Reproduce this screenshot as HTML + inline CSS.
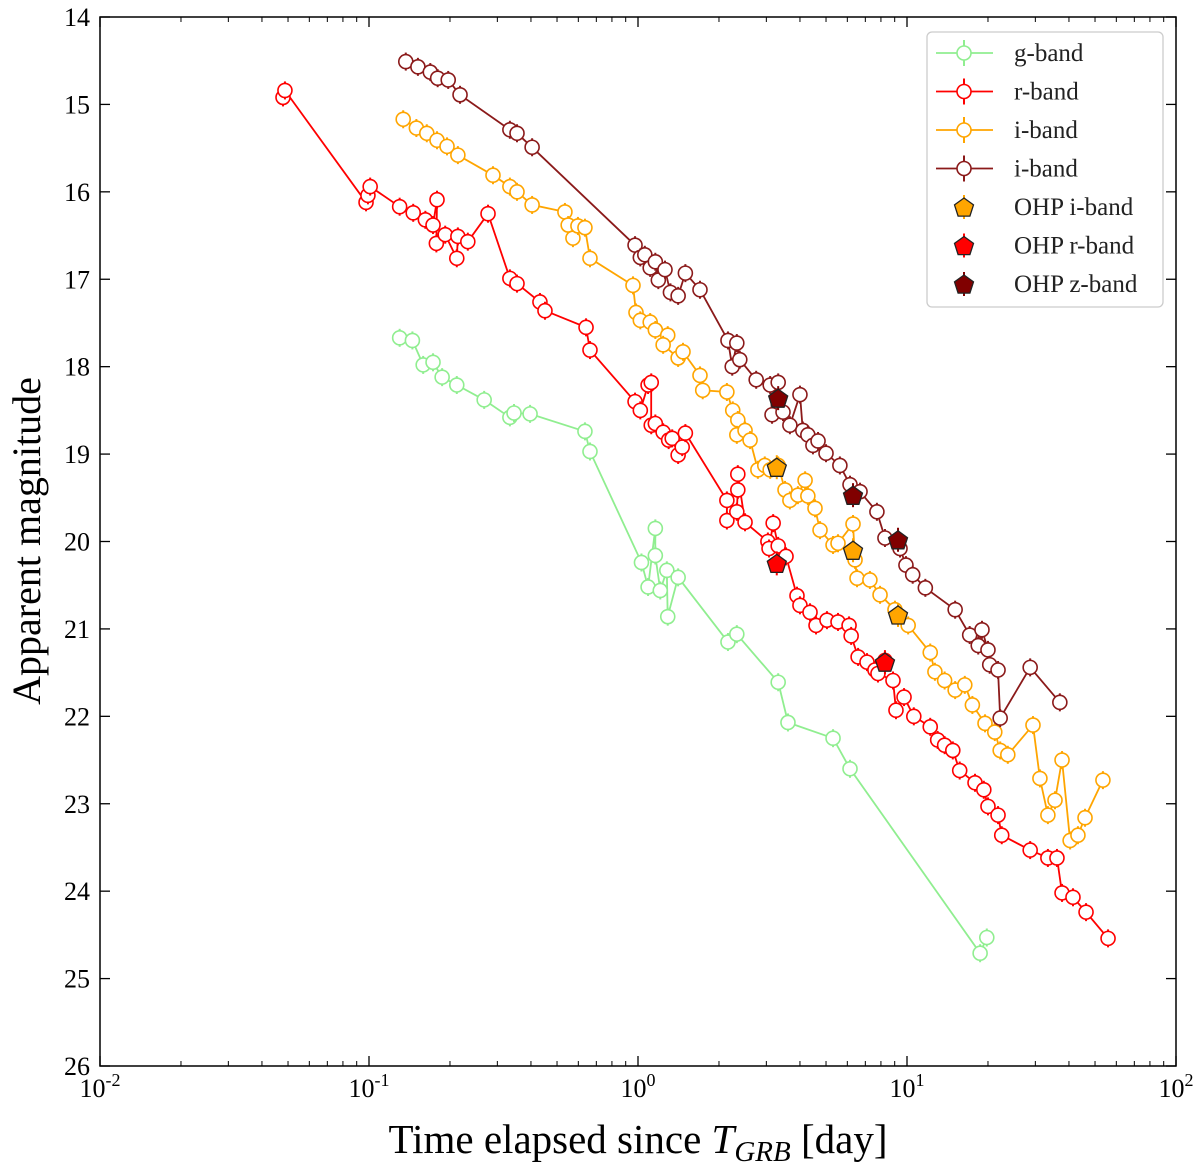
<!DOCTYPE html>
<html><head><meta charset="utf-8"><style>
body{margin:0;background:#fff}
svg{display:block;font-family:"Liberation Serif",serif}
</style></head><body>
<svg id="chart" width="1200" height="1170" viewBox="0 0 1200 1170" xmlns="http://www.w3.org/2000/svg"></svg>
<script>
// ---- data ----
const gT=[0.130,0.145,0.159,0.173,0.187,0.212,0.268,0.334,0.346,0.397,0.635,0.663,1.03,1.09,1.16,1.16,1.21,1.28,1.29,1.41,2.16,2.33,3.32,3.61,5.31,6.14,18.7,19.8];
const gM=[17.67,17.70,17.98,17.95,18.12,18.21,18.38,18.58,18.53,18.54,18.74,18.97,20.24,20.52,19.85,20.16,20.56,20.33,20.86,20.41,21.15,21.06,21.61,22.07,22.25,22.60,24.71,24.53];
const rT=[0.0479,0.0487,0.0975,0.0991,0.101,0.130,0.146,0.162,0.173,0.179,0.178,0.192,0.212,0.214,0.233,0.277,0.334,0.355,0.432,0.451,0.641,0.663,0.975,1.02,1.09,1.12,1.12,1.16,1.24,1.30,1.34,1.41,1.46,1.50,2.14,2.14,2.33,2.35,2.35,2.50,3.04,3.07,3.18,3.32,3.55,3.90,4.00,4.36,4.59,5.04,5.54,6.09,6.20,6.58,7.10,7.60,8.28,7.80,8.87,9.10,9.75,10.6,12.2,13.0,13.8,14.8,15.7,17.9,19.3,20.0,21.8,22.5,28.7,33.4,36.1,37.7,41.4,46.3,55.9];
const rM=[14.92,14.84,16.12,16.04,15.94,16.17,16.24,16.32,16.38,16.09,16.59,16.49,16.76,16.51,16.57,16.25,16.99,17.05,17.26,17.36,17.55,17.81,18.40,18.50,18.21,18.18,18.67,18.65,18.75,18.84,18.82,19.01,18.92,18.76,19.53,19.76,19.66,19.41,19.23,19.78,20.00,20.08,19.79,20.05,20.17,20.62,20.73,20.81,20.96,20.90,20.92,20.96,21.08,21.32,21.38,21.47,21.36,21.51,21.59,21.93,21.78,22.00,22.12,22.27,22.33,22.39,22.62,22.76,22.84,23.03,23.13,23.36,23.53,23.62,23.62,24.02,24.07,24.24,24.54];
const iT=[0.134,0.150,0.164,0.179,0.195,0.214,0.289,0.334,0.355,0.404,0.535,0.550,0.573,0.598,0.635,0.663,0.958,0.983,1.02,1.11,1.16,1.29,1.24,1.41,1.47,1.70,1.74,2.14,2.25,2.35,2.33,2.50,2.61,2.79,2.96,3.10,3.32,3.52,3.67,3.93,4.18,4.28,4.55,4.75,5.31,5.54,6.30,6.41,6.52,7.28,7.94,9.02,10.1,12.2,12.7,13.8,15.1,16.4,17.5,19.5,21.2,22.2,23.7,29.4,31.2,33.4,35.5,37.7,40.4,43.2,45.9,53.5];
const iM=[15.17,15.27,15.33,15.41,15.48,15.58,15.81,15.94,16.00,16.15,16.23,16.38,16.53,16.39,16.41,16.76,17.07,17.38,17.47,17.49,17.58,17.64,17.75,17.90,17.83,18.10,18.27,18.29,18.50,18.61,18.78,18.73,18.84,19.18,19.13,19.18,19.13,19.41,19.53,19.47,19.30,19.48,19.62,19.87,20.04,20.02,19.80,20.21,20.42,20.44,20.61,20.78,20.96,21.27,21.49,21.59,21.70,21.64,21.87,22.08,22.18,22.39,22.44,22.10,22.71,23.13,22.96,22.50,23.42,23.36,23.16,22.73];
const zT=[0.137,0.152,0.169,0.180,0.197,0.218,0.334,0.355,0.404,0.975,1.02,1.06,1.11,1.16,1.19,1.26,1.32,1.41,1.50,1.70,2.16,2.24,2.33,2.39,2.75,3.10,3.15,3.32,3.46,3.67,4.00,4.10,4.28,4.47,4.67,5.00,5.63,6.14,6.69,7.73,8.28,9.42,9.91,10.5,11.7,15.1,17.1,18.4,19.0,20.0,20.3,21.8,22.2,28.7,37.0];
const zM=[14.51,14.57,14.63,14.70,14.72,14.89,15.29,15.33,15.49,16.61,16.75,16.72,16.87,16.80,17.01,16.89,17.15,17.19,16.93,17.12,17.70,18.00,17.73,17.92,18.15,18.21,18.55,18.18,18.52,18.67,18.32,18.73,18.78,18.90,18.85,18.99,19.13,19.35,19.43,19.66,19.96,20.08,20.27,20.38,20.53,20.78,21.07,21.19,21.01,21.24,21.41,21.47,22.02,21.44,21.84];
const ohpIT=[3.28,6.30,9.26], ohpIM=[19.15,20.10,20.84];
const ohpRT=[3.28,8.28], ohpRM=[20.25,21.38];
const ohpZT=[3.32,6.30,9.26], ohpZM=[18.36,19.47,19.98];
const yTicks=[14,15,16,17,18,19,20,21,22,23,24,25,26];
const xDecades=[-2,-1,0,1,2];
const legendLabels=["g-band","r-band","i-band","i-band","OHP i-band","OHP r-band","OHP z-band"];

// ---- geometry ----
const L=100,R=1176,T=17,B=1066;
const xs=t=>L+(Math.log10(t)+2)/4*(R-L);
const ys=m=>T+(m-14)/12*(B-T);
const svg=document.getElementById('chart');
const NS='http://www.w3.org/2000/svg';
function mk(tag,attrs,parent){const e=document.createElementNS(NS,tag);for(const k in attrs)e.setAttribute(k,attrs[k]);(parent||svg).appendChild(e);return e;}

const series=[
 {n:'g-band',T:gT,M:gM,c:'#90ee90'},
 {n:'r-band',T:rT,M:rM,c:'#ff0000'},
 {n:'i-band',T:iT,M:iM,c:'#ffa500'},
 {n:'z-like-band',T:zT,M:zM,c:'#8b1a1a'}];
series.forEach(s=>{
 const g=mk('g',{});
 
 
 const pts=s.T.map((t,i)=>xs(t).toFixed(1)+','+ys(s.M[i]).toFixed(1)).join(' ');
 const pl=mk('polyline',{points:pts,fill:'none',stroke:s.c,'stroke-width':1.8},g);
 
 
 s.T.forEach((t,i)=>{
  const x=xs(t),y=ys(s.M[i]);
  const eb=mk('line',{x1:x,x2:x,y1:y-9,y2:y+9,stroke:s.c,'stroke-width':2},g);
  
  
  const c=mk('circle',{cx:x,cy:y,r:7,fill:'#fff',stroke:s.c,'stroke-width':1.6},g);
  
  
 });
});
function pent(x,y,r){let p=[];for(let k=0;k<5;k++){const a=-Math.PI/2+k*2*Math.PI/5;p.push((x+r*Math.cos(a)).toFixed(1)+','+(y+r*Math.sin(a)).toFixed(1));}return p.join(' ');}
[[ohpIT,ohpIM,'#ffa500','ohp-i'],[ohpRT,ohpRM,'#ff0000','ohp-r'],[ohpZT,ohpZM,'#800000','ohp-z']].forEach(([TT,MM,c,n])=>{
 TT.forEach((t,i)=>{
  const x=xs(t),y=ys(MM[i]);
  const eb=mk('line',{x1:x,x2:x,y1:y-12,y2:y+12,stroke:c,'stroke-width':2});
  
  
  const p=mk('polygon',{points:pent(x,y+1,10),fill:c,stroke:'#222','stroke-width':1.3});
  
  
 });
});

// axes frame
const fr=mk('rect',{x:L,y:T,width:R-L,height:B-T,fill:'none',stroke:'#000','stroke-width':1.5});


yTicks.forEach(v=>{
 const y=ys(v);
 mk('line',{x1:L,x2:L+10,y1:y,y2:y,stroke:'#000','stroke-width':1.3});
 mk('line',{x1:R,x2:R-10,y1:y,y2:y,stroke:'#000','stroke-width':1.3});
 const tx=mk('text',{x:L-10,y:y+9,'text-anchor':'end','font-size':26});
 tx.textContent=v;
 
 
});
xDecades.forEach(d=>{
 const x=xs(Math.pow(10,d));
 mk('line',{x1:x,x2:x,y1:B,y2:B-10,stroke:'#000','stroke-width':1.3});
 mk('line',{x1:x,x2:x,y1:T,y2:T+10,stroke:'#000','stroke-width':1.3});
 const tx=mk('text',{x:x,y:B+31,'text-anchor':'middle','font-size':26});
 tx.innerHTML='10<tspan dy="-11" font-size="18">'+d+'</tspan>';
 
 
 if(d<2)for(let k=2;k<10;k++){const xm=xs(k*Math.pow(10,d));
  mk('line',{x1:xm,x2:xm,y1:B,y2:B-5,stroke:'#000','stroke-width':1});
  mk('line',{x1:xm,x2:xm,y1:T,y2:T+5,stroke:'#000','stroke-width':1});}
});
const xl=mk('text',{x:638,y:1153,'text-anchor':'middle','font-size':41});
xl.innerHTML='Time elapsed since <tspan font-style="italic">T</tspan><tspan font-style="italic" font-size="29" dy="8">GRB</tspan><tspan dy="-8"> [day]</tspan>';


const yl=mk('text',{x:0,y:0,'text-anchor':'middle','font-size':40,transform:'translate(40,541) rotate(-90)'});
yl.textContent='Apparent magnitude';



// legend
const lg=mk('g',{});


mk('rect',{x:927,y:32,width:236,height:275,rx:5,fill:'#fff','fill-opacity':0.85,stroke:'#ccc','stroke-width':1.3},lg);
const lc=['#90ee90','#ff0000','#ffa500','#8b1a1a','#ffa500','#ff0000','#800000'];
legendLabels.forEach((lab,i)=>{
 const y=53+i*38.5;
 const e=mk('g',{},lg);
 
 
 if(i<4){
  mk('line',{x1:936,x2:993,y1:y,y2:y,stroke:lc[i],'stroke-width':1.8},e);
  mk('line',{x1:964,x2:964,y1:y-13,y2:y+13,stroke:lc[i],'stroke-width':2},e);
  mk('circle',{cx:964,cy:y,r:7,fill:'#fff',stroke:lc[i],'stroke-width':1.6},e);
 }else{
  mk('line',{x1:964,x2:964,y1:y-12,y2:y+12,stroke:lc[i],'stroke-width':2},e);
  mk('polygon',{points:pent(964,y+1,10),fill:lc[i],stroke:'#222','stroke-width':1.3},e);
 }
 const t=mk('text',{x:1014,y:y+8,'font-size':25,fill:'#222'},e);
 t.textContent=lab;
});
</script>
</body></html>
